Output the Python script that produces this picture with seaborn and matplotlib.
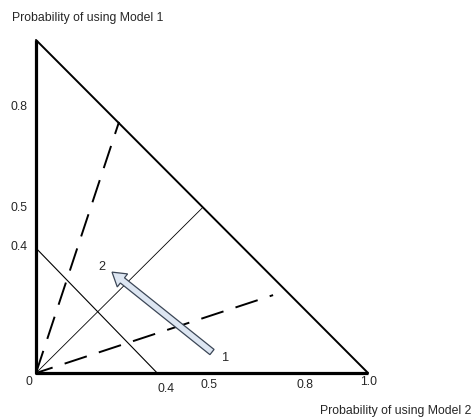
import pandas as pd
import matplotlib.pyplot as plt
import seaborn as sns

# triangle (simplex) outline
tri_x = [0.0, 0.0, 1.0]
tri_y = [1.0, 0.0, 0.0]
hyp_x = [0.0, 1.0]
hyp_y = [1.0, 0.0]

# thin guide lines
mid_x = [0.0, 0.5]
mid_y = [0.0, 0.495]
iso_x = [0.0, 0.365]
iso_y = [0.375, 0.0]

# dashed rays from origin
ray1_x = [0.0, 0.25]
ray1_y = [0.0, 0.754]
ray2_x = [0.0, 0.714]
ray2_y = [0.0, 0.234]

# arrow from point 1 to point 2
arrow_start = (0.53, 0.063)
arrow_end = (0.229, 0.303)
point_labels = ['1', '2']
point_label_x = [0.57, 0.20]
point_label_y = [0.045, 0.318]

# tick labels written beside the axes
xtick_text = ['0', '0.4', '0.5', '0.8', '1.0']
xtick_x = [-0.02, 0.392, 0.52, 0.81, 1.003]
xtick_y = [-0.027, -0.047, -0.035, -0.035, -0.027]
ytick_text = ['0.8', '0.5', '0.4']
ytick_y = [0.80, 0.497, 0.378]

sns.set_style("white")
plt.rcParams['font.family'] = ['Liberation Sans', 'DejaVu Sans']

fig = plt.figure(figsize=(4.74, 4.19), dpi=100)
ax = fig.add_axes([0, 0, 1, 1])
ax.set_xlim(-0.1084, 1.319)
ax.set_ylim(-0.138, 1.120)
ax.axis('off')

def seg(xs, ys, **kw):
    d = pd.DataFrame({'x': xs, 'y': ys})
    sns.lineplot(data=d, x='x', y='y', sort=False, estimator=None, ax=ax,
                 color='black', **kw)

seg(tri_x, tri_y, linewidth=2.3, solid_capstyle='butt')
seg(hyp_x, hyp_y, linewidth=1.4)
seg(mid_x, mid_y, linewidth=0.6)
seg(iso_x, iso_y, linewidth=0.8)
seg(ray1_x, ray1_y, linewidth=1.4, linestyle=(0, (12, 6.5)))
seg(ray2_x, ray2_y, linewidth=1.4, linestyle=(3, (12, 6.5)))

ax.arrow(arrow_start[0], arrow_start[1],
         arrow_end[0] - arrow_start[0], arrow_end[1] - arrow_start[1],
         width=0.02, head_width=0.05, head_length=0.04,
         length_includes_head=True, fc='#dde6f2', ec='#3b4656', lw=0.9,
         zorder=5)

for t, x, y in zip(point_labels, point_label_x, point_label_y):
    ax.text(x, y, t, fontsize=9.2, ha='center', va='center')

for t, x, y in zip(xtick_text, xtick_x, xtick_y):
    ax.text(x, y, t, fontsize=8.8, ha='center', va='center')
for t, y in zip(ytick_text, ytick_y):
    ax.text(-0.05, y, t, fontsize=8.8, ha='center', va='center')

ax.text(-0.072, 1.065, 'Probability of using Model 1', fontsize=8.8,
        ha='left', va='center')
ax.text(1.312, -0.115, 'Probability of using Model 2', fontsize=8.8,
        ha='right', va='center')

fig.savefig('out.png', dpi=100)
